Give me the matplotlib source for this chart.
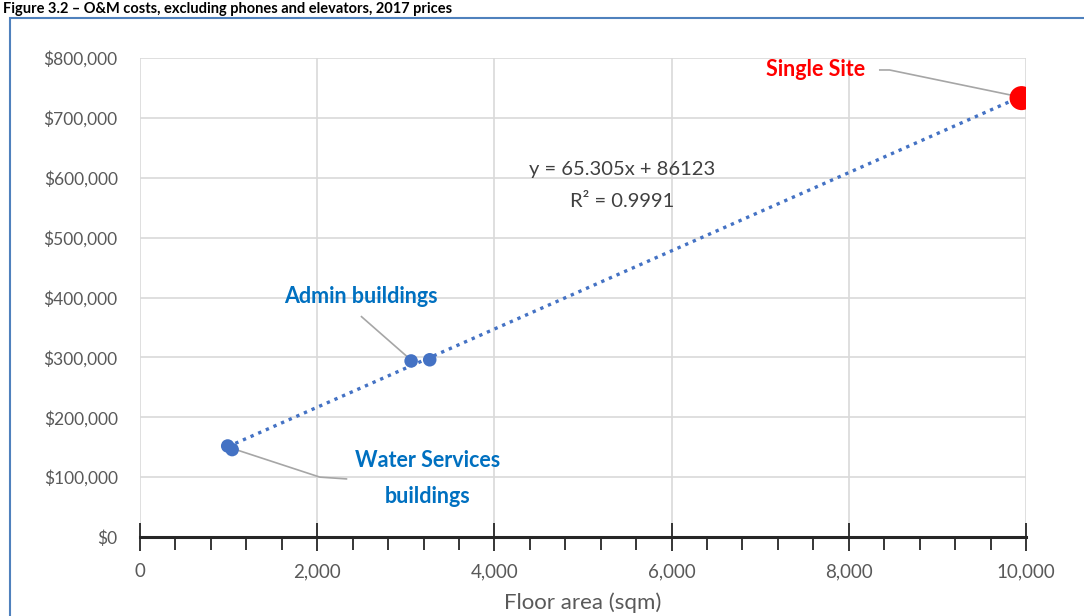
import numpy as np
import matplotlib
matplotlib.use("Agg")
import matplotlib.pyplot as plt
from matplotlib.ticker import FuncFormatter, MultipleLocator
from matplotlib.patches import Rectangle

plt.rcParams['font.family'] = ['Lato', 'DejaVu Sans']

# data
floor_area = [990, 1040, 3060, 3270, 9950]
cost = [152000, 146000, 294000, 296000, 733000]
groups = ["water", "water", "admin", "admin", "single"]
slope, intercept, r2 = 65.305, 86123, 0.9991

blue = "#4472C4"
label_blue = "#0070C0"
grey_txt = "#595959"
leader = "#A6A6A6"

fig = plt.figure(figsize=(10.84, 6.16), dpi=100)
ax = fig.add_axes([140/1084, 1 - 537/616, 886/1084, 479/616])

# trend line
xs = np.array([min(floor_area), max(floor_area)])
ax.plot(xs, slope * xs + intercept, color=blue, lw=2.4, ls=(0, (1, 1.5)), zorder=2)

for x, y, g in zip(floor_area, cost, groups):
    if g == "single":
        ax.scatter(x, y, s=300, color="#FF0000", zorder=3, edgecolor="none")
    else:
        ax.scatter(x, y, s=95, color=blue, zorder=3, edgecolor="none")

ax.set_xlim(0, 10000)
ax.set_ylim(0, 800000)
ax.xaxis.set_major_locator(MultipleLocator(2000))
ax.xaxis.set_minor_locator(MultipleLocator(400))
ax.yaxis.set_major_locator(MultipleLocator(100000))
ax.xaxis.set_major_formatter(FuncFormatter(lambda v, p: f"{v:,.0f}"))
ax.yaxis.set_major_formatter(FuncFormatter(lambda v, p: f"${v:,.0f}"))
ax.grid(True, color="#D9D9D9", lw=1.2)
ax.set_axisbelow(True)
for s in ["left", "right", "top"]:
    ax.spines[s].set_visible(False)
ax.spines["bottom"].set_linewidth(2.2)
ax.spines["bottom"].set_color("#262626")
ax.tick_params(axis="x", which="major", direction="inout", length=20, width=1.3,
               color="#262626", labelsize=13.5, labelcolor=grey_txt, pad=9)
ax.tick_params(axis="x", which="minor", direction="out", length=9, width=1.3, color="#262626")
ax.tick_params(axis="y", length=0, labelsize=12.5, labelcolor=grey_txt, pad=16)
ax.set_xlabel("Floor area (sqm)", fontsize=16, color=grey_txt, labelpad=9)

# equation
ax.text(5440, 613000, f"y = {slope}x + {intercept}", ha="center", va="center",
        fontsize=14.5, color="#404040")
ax.text(5440, 561000, f"R² = {r2}", ha="center", va="center", fontsize=14.5, color="#404040")

# callouts
ax.text(2490, 402000, "Admin buildings", ha="center", va="center", fontsize=15.5,
        fontweight="bold", color=label_blue)
ax.plot([2500, 3040], [368000, 298000], color=leader, lw=1.2, zorder=1)

ax.text(3250, 98000, "Water Services\nbuildings", ha="center", va="center", fontsize=15.5,
        fontweight="bold", color=label_blue, linespacing=1.85)
ax.plot([1040, 2030, 2330], [148000, 100000, 97000], color=leader, lw=1.2, zorder=1)

ax.text(7620, 781000, "Single Site", ha="center", va="center", fontsize=15.5,
        fontweight="bold", color="#FF0000")
ax.plot([8350, 8460, 9930], [780000, 780000, 735000], color=leader, lw=1.2, zorder=1)

# chart frame and title above it
fig.patches.append(Rectangle((10/1084, -0.05), 1.2, 1 - 18/616 + 0.05, transform=fig.transFigure,
                             fill=False, edgecolor="#4F81BD", lw=1.5))
fig.text(0.003, 1 - 13/616, "Figure 3.2 – O&M costs, excluding phones and elevators, 2017 prices",
         fontsize=10.5, fontweight="bold", ha="left", va="baseline", color="black")

fig.savefig("out.png", dpi=100)
